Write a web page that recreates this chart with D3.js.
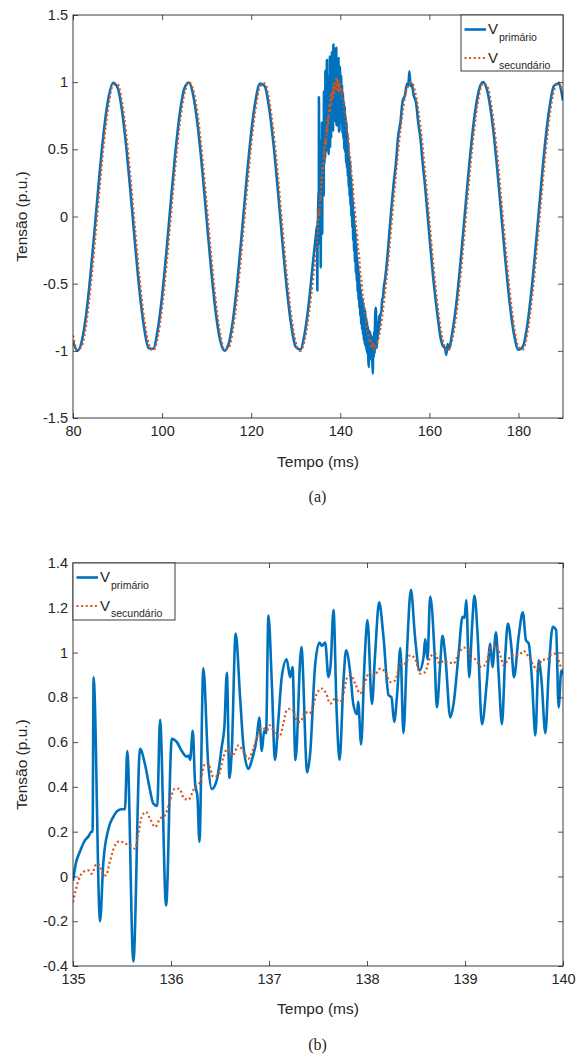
<!DOCTYPE html>
<html><head><meta charset="utf-8">
<script src="https://cdn.jsdelivr.net/npm/d3@7"></script>
<style>body{margin:0;background:#fff}svg{display:block}text{font-family:"Liberation Sans",Arial,sans-serif;fill:#262626}</style>
</head><body><svg id="c" width="576" height="1056"></svg>
<script>
// ---------- data ----------
const seriesNames = ["primário", "secundário"];
const xTopTicks = [80, 100, 120, 140, 160, 180];
const yTopTicks = [-1.5, -1, -0.5, 0, 0.5, 1, 1.5];
const xBotTicks = [135, 136, 137, 138, 139, 140];
const yBotTicks = [-0.4, -0.2, 0, 0.2, 0.4, 0.6, 0.8, 1, 1.2, 1.4];

// primary voltage, 80–135 ms
const primaryBefore = [[80,-0.93],[81,-1.0],[82,-0.925],[83,-0.718],[84,-0.409],[85,-0.042],[86,0.331],[87,0.658],[88,0.889],[89,0.996],[90,0.96],[91,0.788],[92,0.503],[93,0.147],[94,-0.229],[95,-0.574],[96,-0.836],[97,-0.98],[98,-0.984],[99,-0.848],[100,-0.592],[101,-0.252],[102,0.125],[103,0.484],[104,0.773],[105,0.953],[106,0.997],[107,0.9],[108,0.674],[109,0.353],[110,-0.019],[111,-0.388],[112,-0.702],[113,-0.916],[114,-0.999],[115,-0.941],[116,-0.749],[117,-0.449],[118,-0.087],[119,0.288],[120,0.623],[121,0.868],[122,0.99],[123,0.972],[124,0.815],[125,0.542],[126,0.192],[127,-0.185],[128,-0.536],[129,-0.81],[130,-0.97],[131,-0.991],[132,-0.872],[133,-0.628],[134,-0.30],[134.5,-0.15],[134.8,-0.07],[134.85,-0.55],[134.92,-0.05]];

// primary voltage, 135–140 ms (detail)
const primaryDetail = [[135.0,-0.02],[135.03,0.06],[135.07,0.11],[135.12,0.16],[135.16,0.18],[135.19,0.2],[135.2,0.2],[135.21,0.89],[135.276,-0.2],[135.309,0.06],[135.36,0.21],[135.41,0.265],[135.46,0.295],[135.5,0.3],[135.53,0.3],[135.554,0.56],[135.616,-0.38],[135.684,0.57],[135.735,0.5],[135.786,0.385],[135.82,0.325],[135.86,0.315],[135.888,0.7],[135.95,-0.13],[136.008,0.615],[136.06,0.6],[136.11,0.56],[136.16,0.535],[136.18,0.54],[136.195,0.52],[136.222,0.65],[136.246,0.415],[136.27,0.355],[136.29,0.155],[136.33,0.93],[136.38,0.5],[136.416,0.39],[136.467,0.43],[136.518,0.58],[136.545,0.67],[136.57,0.91],[136.596,0.44],[136.62,0.56],[136.66,1.085],[136.705,0.8],[136.74,0.58],[136.79,0.48],[136.825,0.52],[136.876,0.62],[136.9,0.71],[136.927,0.56],[136.95,0.65],[136.97,0.64],[136.994,1.165],[137.03,0.85],[137.06,0.52],[137.096,0.7],[137.13,0.89],[137.18,0.97],[137.216,0.89],[137.24,0.935],[137.27,0.52],[137.33,1.025],[137.39,0.465],[137.42,0.55],[137.47,0.94],[137.515,1.045],[137.54,1.03],[137.573,1.045],[137.607,0.89],[137.63,0.95],[137.658,1.19],[137.69,0.74],[137.72,0.52],[137.76,0.875],[137.787,1.01],[137.83,0.905],[137.86,0.77],[137.897,0.725],[137.91,0.78],[137.94,0.59],[137.974,0.95],[138.005,1.145],[138.05,0.77],[138.083,0.995],[138.124,1.225],[138.168,1.07],[138.22,0.81],[138.25,0.8],[138.277,0.69],[138.31,0.83],[138.34,1.02],[138.372,0.64],[138.407,0.995],[138.448,1.28],[138.49,1.07],[138.536,0.92],[138.577,0.98],[138.594,1.06],[138.617,0.97],[138.645,1.25],[138.686,1.025],[138.713,0.755],[138.747,0.95],[138.77,1.075],[138.8,0.98],[138.85,0.71],[138.883,0.77],[138.935,0.995],[138.975,1.16],[138.995,1.155],[139.013,1.235],[139.043,0.89],[139.07,1.1],[139.097,1.255],[139.13,1.07],[139.173,0.68],[139.224,0.875],[139.258,1.04],[139.28,0.935],[139.316,1.09],[139.343,0.905],[139.377,0.68],[139.41,0.98],[139.438,1.13],[139.472,1.03],[139.5,0.89],[139.547,1.07],[139.59,1.18],[139.622,1.055],[139.65,1.04],[139.684,0.875],[139.718,0.63],[139.752,0.965],[139.78,0.88],[139.82,0.64],[139.855,0.92],[139.895,1.115],[139.93,1.1],[139.955,0.755],[139.983,0.92],[140.006,0.9]];

// primary voltage, 140–190 ms
const primaryAfter = [[140.1,0.7],[140.2,1.05],[140.3,0.72],[140.4,0.98],[140.5,0.62],[140.6,0.92],[140.7,0.58],[140.8,0.86],[140.9,0.5],[141.0,0.82],[141.1,0.48],[141.2,0.74],[141.3,0.4],[141.4,0.7],[141.5,0.36],[141.6,0.62],[141.7,0.3],[141.8,0.55],[141.9,0.22],[142.0,0.45],[142.1,0.15],[142.2,0.4],[142.3,0.08],[142.4,0.3],[142.5,0.0],[142.6,0.22],[142.7,-0.08],[142.8,0.12],[142.9,-0.18],[143.0,0.04],[143.1,-0.26],[143.2,-0.05],[143.3,-0.34],[143.4,-0.12],[143.5,-0.42],[143.6,-0.2],[143.7,-0.48],[143.8,-0.3],[143.9,-0.56],[144.0,-0.36],[144.1,-0.62],[144.2,-0.42],[144.3,-0.68],[144.4,-0.5],[144.5,-0.74],[144.6,-0.55],[144.7,-0.8],[144.8,-0.6],[144.9,-0.84],[145.0,-0.62],[145.1,-0.88],[145.2,-0.66],[145.3,-0.92],[145.4,-0.68],[145.5,-0.95],[145.6,-0.7],[145.7,-0.97],[145.8,-0.75],[145.9,-1.0],[146.0,-0.78],[146.1,-1.02],[146.2,-0.82],[146.3,-1.06],[146.4,-1.12],[146.5,-0.85],[146.6,-1.04],[146.7,-0.86],[146.8,-1.06],[146.9,-0.88],[147.0,-1.05],[147.1,-0.9],[147.2,-1.08],[147.3,-1.17],[147.4,-0.9],[147.5,-1.05],[147.6,-0.86],[147.7,-1.02],[147.8,-0.8],[147.9,-0.7],[148.0,-0.68],[148.1,-0.9],[148.2,-0.98],[148.3,-0.82],[148.4,-0.92],[148.5,-0.78],[148.6,-0.88],[148.7,-0.74],[148.8,-0.82],[149.0,-0.72],[149.2,-0.72],[149.4,-0.62],[149.6,-0.6],[149.8,-0.52],[150.0,-0.48],[150.5,-0.33],[151,-0.13],[151.5,0.07],[152,0.25],[152.5,0.4],[153,0.6],[153.5,0.7],[154,0.86],[154.5,0.9],[155,0.99],[155.3,0.97],[155.5,1.08],[155.8,0.97],[156,0.99],[156.5,0.9],[157,0.85],[157.5,0.7],[158,0.58],[158.5,0.4],[159,0.24],[160,-0.14],[161,-0.5],[162,-0.78],[162.5,-0.9],[163,-0.96],[163.5,-0.98],[163.8,-1.03],[164.1,-0.95],[164.4,-0.99],[165,-0.893],[166,-0.663],[167,-0.339],[168,0.035],[169,0.402],[170,0.712],[171,0.922],[172,1.0],[173,0.935],[174,0.738],[175,0.437],[176,0.072],[177,-0.302],[178,-0.635],[179,-0.876],[180,-0.992],[181,-0.968],[182,-0.806],[183,-0.528],[184,-0.177],[185,0.199],[186,0.549],[187,0.819],[188,0.974],[189,0.989],[190,0.863]];

// secondary voltage, 80–135 ms
const secondaryBefore = [[80,-0.886],[81,-0.995],[82,-0.962],[83,-0.792],[84,-0.509],[85,-0.155],[86,0.222],[87,0.568],[88,0.832],[89,0.978],[90,0.985],[91,0.852],[92,0.598],[93,0.258],[94,-0.118],[95,-0.477],[96,-0.768],[97,-0.951],[98,-0.998],[99,-0.903],[100,-0.679],[101,-0.36],[102,0.012],[103,0.381],[104,0.697],[105,0.913],[106,0.999],[107,0.943],[108,0.754],[109,0.456],[110,0.094],[111,-0.281],[112,-0.617],[113,-0.864],[114,-0.989],[115,-0.973],[116,-0.819],[117,-0.548],[118,-0.199],[119,0.177],[120,0.53],[121,0.806],[122,0.968],[123,0.992],[124,0.875],[125,0.633],[126,0.302],[127,-0.072],[128,-0.437],[129,-0.739],[130,-0.936],[131,-1.0],[132,-0.922],[133,-0.712],[134,-0.44],[134.5,-0.28]];

// secondary voltage, 135–140 ms (detail)
const secondaryDetail = [[135.0,-0.115],[135.054,-0.02],[135.105,0.02],[135.156,0.027],[135.19,0.012],[135.242,0.057],[135.27,0.05],[135.31,0.005],[135.337,0.005],[135.378,0.07],[135.43,0.14],[135.48,0.158],[135.53,0.147],[135.58,0.139],[135.633,0.124],[135.667,0.19],[135.7,0.265],[135.745,0.288],[135.786,0.258],[135.837,0.221],[135.888,0.258],[135.94,0.273],[135.99,0.34],[136.04,0.392],[136.085,0.392],[136.133,0.348],[136.177,0.343],[136.235,0.392],[136.297,0.422],[136.348,0.504],[136.38,0.504],[136.433,0.444],[136.484,0.452],[136.535,0.533],[136.575,0.571],[136.63,0.541],[136.688,0.586],[136.74,0.556],[136.79,0.526],[136.84,0.571],[136.89,0.638],[136.927,0.667],[136.978,0.653],[137.01,0.675],[137.063,0.638],[137.106,0.623],[137.147,0.683],[137.18,0.742],[137.233,0.75],[137.284,0.697],[137.318,0.69],[137.37,0.734],[137.413,0.727],[137.44,0.745],[137.488,0.817],[137.54,0.839],[137.583,0.817],[137.624,0.772],[137.675,0.794],[137.726,0.779],[137.76,0.817],[137.8,0.891],[137.835,0.898],[137.88,0.861],[137.93,0.817],[137.98,0.868],[138.025,0.913],[138.073,0.898],[138.135,0.928],[138.186,0.913],[138.237,0.868],[138.288,0.876],[138.34,0.951],[138.39,0.951],[138.44,0.988],[138.49,0.973],[138.543,0.906],[138.594,0.913],[138.645,0.98],[138.696,0.995],[138.74,0.951],[138.78,0.962],[138.83,0.958],[138.883,0.951],[138.934,0.995],[138.985,1.022],[139.03,1.02],[139.064,0.973],[139.105,0.97],[139.166,0.935],[139.214,0.951],[139.258,1.018],[139.31,1.032],[139.36,0.988],[139.394,0.943],[139.445,0.973],[139.496,0.988],[139.547,0.988],[139.598,1.007],[139.65,0.98],[139.7,0.943],[139.735,0.92],[139.785,0.968],[139.836,0.968],[139.888,0.995],[139.93,0.995],[139.972,0.943],[140.006,0.928]];

// secondary voltage, 140–190 ms
const secondaryAfter = [[140.25,0.96],[140.5,0.87],[140.75,0.86],[141,0.76],[141.25,0.74],[141.5,0.64],[141.75,0.6],[142,0.48],[142.25,0.43],[142.5,0.32],[142.75,0.26],[143,0.13],[143.25,0.06],[143.5,-0.06],[143.75,-0.12],[144,-0.24],[144.25,-0.3],[144.5,-0.42],[144.75,-0.48],[145,-0.58],[145.25,-0.63],[145.5,-0.73],[145.75,-0.76],[146,-0.85],[146.25,-0.86],[146.5,-0.93],[146.75,-0.92],[147,-0.98],[147.25,-0.94],[147.5,-0.99],[147.75,-0.95],[148,-0.97],[148.5,-0.92],[149,-0.84],[149.5,-0.72],[150,-0.58],[151,-0.244],[152,0.132],[153,0.491],[154,0.778],[155,0.956],[156,0.997],[157,0.896],[158,0.668],[159,0.345],[160,-0.026],[161,-0.396],[162,-0.707],[163,-0.919],[164,-1.0],[165,-0.938],[166,-0.743],[167,-0.443],[168,-0.078],[169,0.296],[170,0.628],[171,0.872],[172,0.991],[173,0.969],[174,0.81],[175,0.536],[176,0.184],[177,-0.193],[178,-0.543],[179,-0.815],[180,-0.972],[181,-0.99],[182,-0.868],[183,-0.621],[184,-0.287],[185,0.087],[186,0.451],[187,0.749],[188,0.941],[189,0.999],[190,0.915]];

// ---------- drawing ----------
const svg = d3.select("#c");
svg.append("rect").attr("width",576).attr("height",1056).attr("fill","#fff");
const BLUE = "#0072BD", ORANGE = "#D95319", AX = "#262626";
const fmt = d => String(+d.toFixed(2));

function panel(cfg) {
  const {left, top, width, height, xDom, yDom, xTicks, yTicks, prim, sec, id, legend, caption, captionY, xTitleY} = cfg;
  const x = d3.scaleLinear().domain(xDom).range([0, width]);
  const y = d3.scaleLinear().domain(yDom).range([height, 0]);
  const g = svg.append("g").attr("transform", `translate(${left},${top})`);
  svg.append("defs").append("clipPath").attr("id", id).append("rect").attr("width", width).attr("height", height);

  const line = d3.line().x(d => x(d[0])).y(d => y(d[1])).curve(d3.curveMonotoneX);
  const plot = g.append("g").attr("clip-path", `url(#${id})`);
  plot.append("path").datum(prim).attr("d", line).attr("fill","none").attr("stroke",BLUE).attr("stroke-width",2.6).attr("stroke-linejoin","round");
  plot.append("path").datum(sec).attr("d", line).attr("fill","none").attr("stroke",ORANGE).attr("stroke-width",2.2).attr("stroke-dasharray","2,2.6");

  const style = sel => { sel.select(".domain").remove(); sel.selectAll("line").attr("stroke",AX).attr("stroke-width",0.8);
    sel.selectAll("text").attr("fill",AX).style("font-size","14.5px").style("font-family",'"Liberation Sans",Arial,sans-serif'); };
  g.append("g").attr("transform",`translate(0,${height})`).call(d3.axisBottom(x).tickValues(xTicks).tickFormat(fmt).tickSize(-5).tickSizeOuter(0).tickPadding(8)).call(style);
  g.append("g").call(d3.axisTop(x).tickValues(xTicks).tickFormat("").tickSize(-5).tickSizeOuter(0)).call(style);
  g.append("g").call(d3.axisLeft(y).tickValues(yTicks).tickFormat(fmt).tickSize(-5).tickSizeOuter(0).tickPadding(5)).call(style);
  g.append("g").attr("transform",`translate(${width},0)`).call(d3.axisRight(y).tickValues(yTicks).tickFormat("").tickSize(-5).tickSizeOuter(0)).call(style);
  g.append("rect").attr("width",width).attr("height",height).attr("fill","none").attr("stroke",AX).attr("stroke-width",0.9);

  g.append("text").attr("x", width/2).attr("y", xTitleY).attr("text-anchor","middle").style("font-size","15.5px").text("Tempo (ms)");
  g.append("text").attr("transform",`translate(${-46},${height/2}) rotate(-90)`).attr("text-anchor","middle").style("font-size","15.5px").text("Tensão (p.u.)");
  svg.append("text").attr("x", left + width/2 - 0.5).attr("y", captionY).attr("text-anchor","middle")
    .style("font-family",'"Liberation Serif","DejaVu Serif",serif').style("font-size","16px").text(caption);

  // legend
  const L = legend;
  const lg = g.append("g").attr("transform",`translate(${L.x},${L.y})`);
  lg.append("rect").attr("width",L.w).attr("height",L.h).attr("fill","#fff").attr("stroke",AX).attr("stroke-width",0.9);
  const rows = [{c:BLUE, dash:null, sw:2.6, name:seriesNames[0]},{c:ORANGE, dash:"2,2.6", sw:2.2, name:seriesNames[1]}];
  rows.forEach((r,i) => {
    const yy = 14.5 + i*28.5;
    const ln = lg.append("line").attr("x1",3.5).attr("x2",25).attr("y1",yy).attr("y2",yy).attr("stroke",r.c).attr("stroke-width",r.sw);
    if (r.dash) ln.attr("stroke-dasharray", r.dash);
    const t = lg.append("text").attr("x",27).attr("y",yy+4.5).style("font-size","15px");
    t.append("tspan").text("V");
    t.append("tspan").attr("dy",6.5).attr("dx",1).style("font-size","10.5px").text(r.name);
  });
}

panel({left:73, top:15, width:490, height:403, xDom:[80,190], yDom:[-1.5,1.5], xTicks:xTopTicks, yTicks:yTopTicks,
  prim: primaryBefore.concat(primaryDetail, primaryAfter), sec: secondaryBefore.concat(secondaryDetail, secondaryAfter),
  id:"clipA", legend:{x:388, y:0, w:102, h:56}, caption:"(a)", captionY:502, xTitleY:452});
panel({left:73, top:563, width:490, height:403, xDom:[135,140], yDom:[-0.4,1.4], xTicks:xBotTicks, yTicks:yBotTicks,
  prim: primaryDetail, sec: secondaryDetail,
  id:"clipB", legend:{x:0, y:0, w:102, h:57}, caption:"(b)", captionY:1050, xTitleY:451});
</script></body></html>
